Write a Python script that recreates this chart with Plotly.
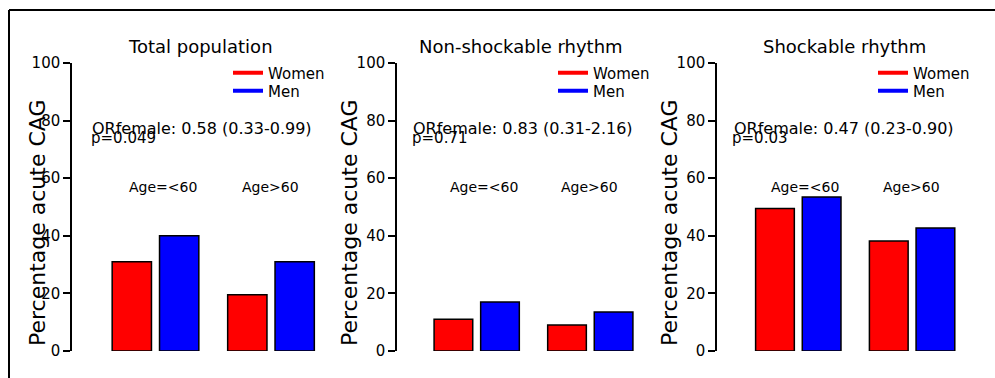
import plotly.graph_objects as go

# ---- data -------------------------------------------------------------
age_groups = ["Age=<60", "Age>60"]
panel_titles = ["Total population", "Non-shockable rhythm", "Shockable rhythm"]

women_total = [31, 19.5]
men_total = [40, 31]
women_nonshock = [11, 9]
men_nonshock = [17, 13.5]
women_shock = [49.5, 38.2]
men_shock = [53.5, 42.7]

or_labels = ["ORfemale: 0.58 (0.33-0.99)",
             "ORfemale: 0.83 (0.31-2.16)",
             "ORfemale: 0.47 (0.23-0.90)"]
p_labels = ["p=0.049", "p=0.71", "p=0.03"]

y_ticks = [0, 20, 40, 60, 80, 100]
age_label_y = 57

# ---- layout helpers ---------------------------------------------------
W, H = 995, 378
FONT = "DejaVu Sans"
RED, BLUE = "#ff0000", "#0000ff"


def px_x(v):
    return v / W


def px_y(v):
    return 1 - v / H


# per panel: y-axis x position, first group centre, group spacing (px)
axis_px = [72, 397, 717]
group0_px = [155.5, 476.7, 798.3]
spacing_px = [115.5, 113.6, 113.8]
panel_w = 258
y_top_px, y_bot_px = 63, 351

women_sets = [women_total, women_nonshock, women_shock]
men_sets = [men_total, men_nonshock, men_shock]

fig = go.Figure()
annotations = []
layout_axes = {}
legend_count = 0

for i in range(3):
    n = "" if i == 0 else str(i + 1)
    xa, ya = "x" + n, "y" + n

    fig.add_trace(go.Bar(x=age_groups, y=women_sets[i], name="Women",
                         marker=dict(color=RED, line=dict(color="black", width=1.5)),
                         xaxis=xa, yaxis=ya, offsetgroup="w", showlegend=False))
    fig.add_trace(go.Bar(x=age_groups, y=men_sets[i], name="Men",
                         marker=dict(color=BLUE, line=dict(color="black", width=1.5)),
                         xaxis=xa, yaxis=ya, offsetgroup="m", showlegend=False))

    # legend keys drawn as thick line segments, one legend box per row
    for row, (nm, col) in enumerate((("Women", RED), ("Men", BLUE))):
        legend_count += 1
        leg = "legend" if legend_count == 1 else "legend" + str(legend_count)
        fig.add_trace(go.Scatter(x=[None], y=[None], mode="lines", name=nm,
                                 line=dict(color=col, width=4),
                                 xaxis=xa, yaxis=ya, legend=leg, showlegend=True))
        layout_axes[leg] = dict(
            x=px_x(axis_px[i] + 156), y=px_y(73 + 18 * row),
            xanchor="left", yanchor="middle",
            bgcolor="rgba(0,0,0,0)",
            font=dict(family=FONT, size=15, color="black"), itemwidth=30)

    unit = spacing_px[i]
    r0 = -(group0_px[i] - axis_px[i]) / unit
    r1 = r0 + panel_w / unit
    layout_axes["xaxis" + n] = dict(
        domain=[px_x(axis_px[i]), px_x(axis_px[i] + panel_w)],
        range=[r0, r1], visible=False, type="category", anchor=ya)
    layout_axes["yaxis" + n] = dict(
        domain=[px_y(y_bot_px), px_y(y_top_px)], range=[0, 100],
        anchor=xa, showgrid=False, zeroline=False,
        showline=True, linecolor="black", linewidth=1.5,
        ticks="outside", ticklen=7, tickwidth=1.5, tickcolor="black",
        tickvals=y_ticks, ticktext=[str(t) for t in y_ticks],
        tickfont=dict(family=FONT, size=15, color="black"))

    # panel title
    annotations.append(dict(text=panel_titles[i], xref="paper", yref="paper",
                            x=px_x([200, 521, 844][i]), y=px_y(47),
                            xanchor="center", yanchor="middle", showarrow=False,
                            font=dict(family=FONT, size=18, color="black")))
    # y-axis title
    annotations.append(dict(text="Percentage acute CAG", xref="paper", yref="paper",
                            x=px_x([37, 349, 669][i]), y=px_y(223), textangle=-90,
                            xanchor="center", yanchor="middle", showarrow=False,
                            font=dict(family=FONT, size=22, color="black")))
    # odds ratio and p value
    annotations.append(dict(text=or_labels[i], xref="paper", yref="paper",
                            x=px_x([90, 411, 732][i]), y=px_y(128),
                            xanchor="left", yanchor="middle", showarrow=False,
                            font=dict(family=FONT, size=16, color="black")))
    annotations.append(dict(text=p_labels[i], xref="paper", yref="paper",
                            x=px_x([89, 410, 730][i]), y=px_y(138),
                            xanchor="left", yanchor="middle", showarrow=False,
                            font=dict(family=FONT, size=15, color="black")))
    # age group labels above the bars
    for k, g in enumerate(age_groups):
        annotations.append(dict(text=g, xref=xa, yref=ya, x=g, y=age_label_y,
                                xshift=7 if k == 0 else -1,
                                xanchor="center", yanchor="middle", showarrow=False,
                                font=dict(family=FONT, size=14, color="black")))

# frame lines along the top and left edges
shapes = [
    dict(type="line", xref="paper", yref="paper", x0=px_x(9), x1=1,
         y0=px_y(10), y1=px_y(10), line=dict(color="black", width=2)),
    dict(type="line", xref="paper", yref="paper", x0=px_x(9), x1=px_x(9),
         y0=px_y(10), y1=0, line=dict(color="black", width=2)),
]

fig.update_layout(
    width=W, height=H,
    margin=dict(l=0, r=0, t=0, b=0, autoexpand=False),
    paper_bgcolor="white", plot_bgcolor="white",
    barmode="group", bargap=0.18, bargroupgap=0.17,
    annotations=annotations, shapes=shapes,
    **layout_axes,
)

fig.write_html("out.html")
